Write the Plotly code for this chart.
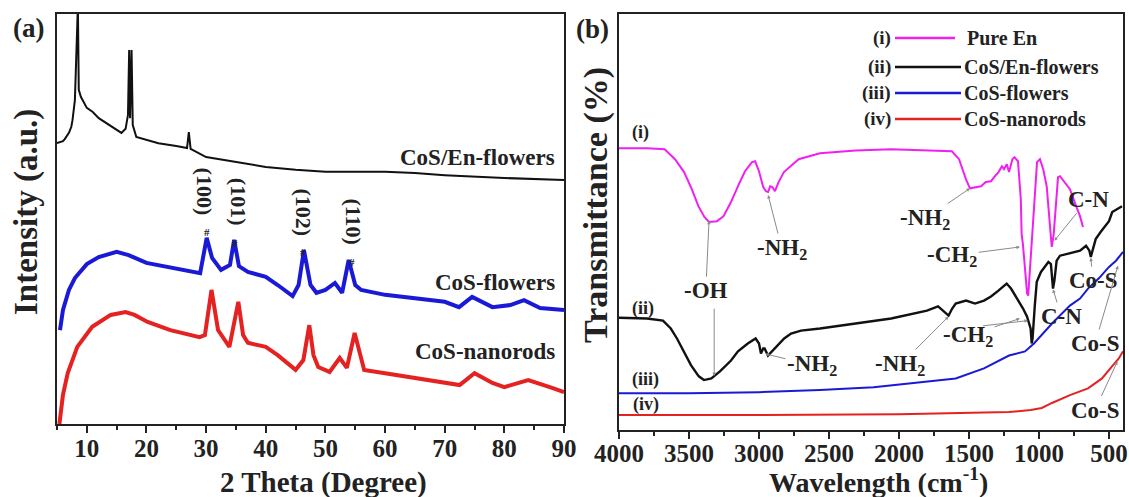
import plotly.graph_objects as go

FONT = "Liberation Serif"

# ---------------- Panel (a): XRD ----------------
two_theta_en = [5, 6, 6.3, 7, 7.4, 7.6, 8.0, 8.2, 8.35, 8.5, 8.65, 9.0, 10, 11, 12, 13, 14, 15, 15.8, 16.5, 16.9, 17.1,
                17.25, 17.5, 17.7, 18.3, 20, 22, 25, 26.8, 27.1, 27.4, 30, 35, 40, 45, 50, 55, 60, 65, 70, 80, 90]
int_en = [68.5, 69.0, 69.5, 71.0, 72.5, 74.1, 79.0, 88.8, 102, 102, 81.5, 79.8, 77.1, 76.1, 74.6, 73.7, 72.7, 71.7,
          71.0, 72.0, 75.4, 91.2, 74.6, 91.2, 72.9, 70.0, 69.3, 68.5, 67.8, 67.3, 71.2, 67.1, 65.1, 63.9, 62.7, 62.0,
          61.5, 61.5, 61.5, 61.2, 60.7, 60.0, 59.5]

two_theta_fl = [5.5, 6.0, 7.0, 8.0, 10, 12, 15, 17, 20, 23, 25, 28, 29, 30.1, 31, 32.5, 34, 34.7, 35.5, 37, 40, 42,
                44.5, 45.5, 46.4, 47.5, 48.5, 50, 51.6, 52.8, 53.9, 55, 56, 60, 65, 70, 72.4, 74.6, 78, 81, 83.3, 86, 90]
int_fl = [22.9, 27.8, 32.7, 35.6, 39.0, 40.7, 42.0, 41.2, 39.3, 38.5, 38.0, 37.3, 36.8, 45.4, 40.5, 37.6, 38.8, 44.9,
          38.5, 37.1, 35.9, 33.9, 31.2, 33.9, 42.4, 33.9, 32.0, 32.7, 34.4, 32.0, 40.0, 33.9, 32.7, 31.5, 30.7, 29.8,
          28.5, 31.0, 28.5, 29.0, 30.2, 28.3, 27.8]

two_theta_nr = [5.4, 6.0, 6.8, 8.4, 10.9, 14, 16.5, 18, 20.2, 24, 28.9, 29.8, 30.9, 32, 33.9, 35.4, 36.2, 37, 40, 42,
                45, 46.3, 47.3, 48, 48.8, 50.7, 52.4, 53.6, 54.9, 56, 56.5, 60, 65, 70, 72.5, 75, 78, 80, 84, 88, 90]
int_nr = [0.0, 7.1, 12.4, 18.8, 23.7, 26.6, 27.3, 26.6, 24.9, 22.9, 21.2, 21.7, 32.7, 22.9, 18.8, 29.8, 21.7, 19.8,
          18.8, 16.8, 13.2, 15.6, 24.1, 16.8, 13.9, 12.7, 16.1, 13.7, 22.2, 15.6, 13.2, 12.4, 11.2, 10.0, 9.5, 12.4,
          10.0, 9.0, 10.7, 8.8, 7.8]

hkl_labels = ["(100)", "(101)", "(102)", "(110)"]
hkl_x = [29.7, 35.4, 46.3, 54.7]
hkl_y = [56.6, 54.1, 51.5, 49.3]
hash_x = [30.1, 34.8, 46.2, 54.4]
hash_y = [46.8, 44.1, 41.9, 39.5]

# ---------------- Panel (b): FTIR ----------------
wn_en = [4000, 3800, 3674, 3600, 3535, 3480, 3433, 3390, 3357, 3300, 3253, 3200, 3150, 3100, 3050, 3028, 3000, 2970,
         2950, 2935, 2920, 2905, 2886, 2860, 2822, 2717, 2564, 2309, 2057, 1800, 1622, 1571, 1522, 1493, 1450, 1414,
         1380, 1343, 1310, 1289, 1265, 1250, 1230, 1214, 1190, 1175, 1150, 1130, 1124, 1115, 1100, 1085, 1077, 1060,
         1043, 1014, 993, 970, 945, 921, 909, 895, 886, 864, 850, 820, 779, 740, 707, 686]
tr_en = [67.7, 67.7, 67.5, 65.1, 62.0, 57.9, 53.8, 51.2, 50.0, 50.2, 51.4, 54.8, 58.6, 62.2, 64.4, 64.6, 62.2, 58.4,
         57.4, 57.2, 58.6, 58.4, 57.4, 59.6, 62.0, 65.1, 66.5, 67.2, 67.5, 67.2, 67.0, 65.1, 60.3, 58.1, 58.4, 58.6,
         59.6, 59.8, 61.2, 62.0, 63.4, 62.7, 63.9, 62.0, 65.1, 65.6, 64.6, 55.5, 47.1, 44.7, 38.8, 32.8, 32.3, 41.1,
         50.7, 64.4, 65.1, 62.7, 58.6, 48.3, 44.0, 47.1, 50.7, 60.8, 61.0, 59.8, 57.9, 54.3, 51.4, 48.8]

wn_cen = [4000, 3800, 3686, 3630, 3586, 3530, 3486, 3430, 3393, 3340, 3279, 3200, 3150, 3080, 3024, 3000, 2986, 2970,
          2960, 2936, 2900, 2871, 2820, 2771, 2700, 2564, 2309, 2056, 1800, 1721, 1686, 1646, 1620, 1595, 1521, 1457,
          1393, 1343, 1290, 1231, 1200, 1164, 1114, 1086, 1060, 1052, 1046, 1030, 1016, 986, 969, 933, 915, 905, 900,
          890, 874, 850, 803, 750, 707, 664, 640, 630, 610, 595, 560, 524, 500, 477, 440, 407]
tr_cen = [27.0, 26.8, 26.3, 24.4, 22.0, 18.4, 15.6, 12.9, 12.0, 12.4, 14.1, 16.7, 18.9, 20.8, 22.0, 20.8, 18.4, 19.6,
          19.6, 17.9, 19.1, 20.3, 22.0, 23.2, 23.9, 24.4, 25.6, 26.8, 28.7, 29.7, 28.7, 27.5, 29.2, 30.4, 31.1, 30.4,
          31.1, 32.1, 33.5, 35.2, 34.0, 32.1, 29.2, 27.3, 24.4, 20.8, 22.0, 29.9, 35.6, 38.0, 38.8, 40.4, 39.9, 36.4,
          34.0, 35.9, 40.7, 41.9, 42.3, 42.8, 43.1, 44.3, 43.1, 41.6, 44.0, 45.9, 47.6, 49.0, 50.2, 52.4, 53.1, 53.8]

wn_cfl = [4000, 3500, 3000, 2564, 2181, 1800, 1595, 1393, 1214, 1100, 1036, 907, 779, 707, 650, 574, 500, 450, 400]
tr_cfl = [8.85, 8.85, 9.1, 9.6, 10.3, 11.7, 12.4, 14.8, 17.9, 18.9, 20.8, 25.6, 29.9, 31.6, 34.0, 36.4, 39.2, 40.7, 42.8]

wn_cnr = [4000, 3000, 2000, 1500, 1214, 1059, 980, 907, 779, 650, 550, 471, 430, 400]
tr_cnr = [3.6, 3.6, 3.8, 4.1, 4.3, 4.8, 5.3, 6.5, 8.4, 10.0, 12.4, 15.6, 17.2, 18.9]

series_names = ["Pure En", "CoS/En-flowers", "CoS-flowers", "CoS-nanorods"]
series_tags = ["(i)", "(ii)", "(iii)", "(iv)"]
MAG, BLK, BLU, RED = "#f020f0", "#111111", "#1a1ad6", "#e52222"

# figure fills the whole window (page margin removed in post_script)
W, H = 1129, 497
def px(x):   # screen pixel -> paper x
    return x / W
def py(y):   # screen pixel -> paper y
    return 1 - y / H

fig = go.Figure()
fig.add_trace(go.Scatter(x=two_theta_en, y=int_en, mode="lines", line=dict(color=BLK, width=2), xaxis="x", yaxis="y"))
fig.add_trace(go.Scatter(x=two_theta_fl, y=int_fl, mode="lines", line=dict(color=BLU, width=4), xaxis="x", yaxis="y"))
fig.add_trace(go.Scatter(x=two_theta_nr, y=int_nr, mode="lines", line=dict(color=RED, width=4), xaxis="x", yaxis="y"))
fig.add_trace(go.Scatter(x=wn_en, y=tr_en, mode="lines", line=dict(color=MAG, width=2), xaxis="x2", yaxis="y2"))
fig.add_trace(go.Scatter(x=wn_cen, y=tr_cen, mode="lines", line=dict(color=BLK, width=2.4), xaxis="x2", yaxis="y2"))
fig.add_trace(go.Scatter(x=wn_cfl, y=tr_cfl, mode="lines", line=dict(color=BLU, width=2), xaxis="x2", yaxis="y2"))
fig.add_trace(go.Scatter(x=wn_cnr, y=tr_cnr, mode="lines", line=dict(color=RED, width=2), xaxis="x2", yaxis="y2"))

axis_common = dict(showline=True, linecolor="#222", linewidth=2, mirror=True, showgrid=False, zeroline=False,
                   automargin=False)
tickfont = dict(family=FONT, size=25, color="#222", weight="bold")

fig.update_layout(
    template="none",
    width=W, height=H, margin=dict(l=0, r=0, t=0, b=0, autoexpand=False),
    paper_bgcolor="white", plot_bgcolor="white", showlegend=False,
    xaxis=dict(domain=[px(57), px(564)], range=[5, 90], anchor="y", ticks="outside", ticklen=7,
               tickwidth=2, tickcolor="#222", dtick=10, tick0=10, tickfont=tickfont, ticklabelstandoff=-6,
               minor=dict(dtick=5, tick0=5, ticks="outside", ticklen=4, tickwidth=2, tickcolor="#222"),
               **axis_common),
    yaxis=dict(domain=[py(424), py(14)], range=[0, 100], anchor="x", showticklabels=False,
               ticks="", **axis_common),
    xaxis2=dict(domain=[px(619), px(1123)], range=[4000, 400], anchor="y2", ticks="outside", ticklen=7,
                tickwidth=2, tickcolor="#222", tickvals=[4000, 3500, 3000, 2500, 2000, 1500, 1000, 500],
                tickfont=tickfont, ticklabelstandoff=-7,
                minor=dict(tickvals=[3750, 3250, 2750, 2250, 1750, 1250, 750], ticks="outside", ticklen=4,
                           tickwidth=2, tickcolor="#222"),
                **axis_common),
    yaxis2=dict(domain=[py(430), py(14)], range=[0, 100], anchor="x2", showticklabels=False,
                ticks="", **axis_common),
)

ann = []
def txt(x, y, t, size=17, xref="paper", yref="paper", angle=0, xanchor="center", color="#222"):
    ann.append(dict(x=x, y=y, xref=xref, yref=yref, text=t, showarrow=False, textangle=angle, xanchor=xanchor,
                    yanchor="middle", font=dict(family=FONT, size=size, color=color, weight="bold")))

# panel letters and axis titles
txt(px(28), py(28), "(a)", size=27)
txt(px(592), py(29), "(b)", size=27)
txt(px(26), py(212), "Intensity (a.u.)", size=33, angle=-90)
txt(px(596), py(205), "Transmittance (%)", size=34, angle=-90)
txt(px(323), py(482), "2 Theta (Degree)", size=29)
txt(px(878), py(480), "Wavelength (cm<sup>-1</sup>)", size=28)

# XRD labels
txt(88.9, 65.1, "CoS/En-flowers", size=23, xref="x", yref="y", xanchor="right")
txt(88.9, 34.6, "CoS-flowers", size=23, xref="x", yref="y", xanchor="right")
txt(88.9, 17.6, "CoS-nanorods", size=23, xref="x", yref="y", xanchor="right")
for lab, hx, hy in zip(hkl_labels, hkl_x, hkl_y):
    txt(hx, hy, lab, size=22, xref="x", yref="y", angle=90)
for hx, hy in zip(hash_x, hash_y):
    txt(hx, hy, "#", size=11, xref="x", yref="y")

# FTIR curve tags
txt(3850, 71.5, "(i)", size=18, xref="x2", yref="y2")
txt(3830, 29.2, "(ii)", size=18, xref="x2", yref="y2")
txt(3810, 12.2, "(iii)", size=18, xref="x2", yref="y2")
txt(3810, 6.2, "(iv)", size=18, xref="x2", yref="y2")

# legend (drawn manually: tag, line, name)
leg_y = [38, 67, 93, 119]
leg_col = [MAG, BLK, BLU, RED]
leg_x1 = [955, 961, 961, 961]
leg_tx = [965, 962, 962, 962]
shapes = []
for tag, name, yy, col, x1, tx in zip(series_tags, series_names, leg_y, leg_col, leg_x1, leg_tx):
    txt(px(893), py(yy), tag, size=19, xanchor="right")
    txt(px(tx), py(yy), name, size=20, xanchor="left")
    shapes.append(dict(type="line", xref="paper", yref="paper", x0=px(895), x1=px(x1),
                       y0=py(yy), y1=py(yy), line=dict(color=col, width=2.5)))

# FTIR band assignments (label position -> arrow to band)
def arrow(tx, ty, pxv, pyv, t, size=23):
    ann.append(dict(x=pxv, y=pyv, ax=tx, ay=ty, xref="x2", yref="y2", axref="x2", ayref="y2", text=t,
                    showarrow=True, arrowhead=2, arrowsize=0.7, arrowwidth=1, arrowcolor="#8a8a8a",
                    font=dict(family=FONT, size=size, color="#222", weight="bold")))

arrow(3380, 33.5, 3357, 50.3, "-OH")
arrow(3320, 29.5, 3320, 13.0, "")
arrow(2836, 43.5, 2935, 56.5, "-NH<sub>2</sub>")
arrow(2621, 15.6, 2955, 18.3, "-NH<sub>2</sub>")
arrow(1814, 50.7, 1493, 58.1, "-NH<sub>2</sub>")
arrow(1621, 41.9, 1136, 44.0, "-CH<sub>2</sub>")
arrow(650, 55.5, 890, 45.5, "C-N")
arrow(1993, 15.6, 1646, 27.3, "-NH<sub>2</sub>")
arrow(1507, 22.7, 1136, 26.8, "-CH<sub>2</sub>")
arrow(1410, 25.0, 1079, 26.3, "")
arrow(840, 27.3, 900, 33.8, "C-N")
arrow(614, 35.9, 630, 41.4, "Co-S")
arrow(600, 20.8, 436, 39.5, "Co-S")
arrow(600, 4.8, 440, 16.5, "Co-S")

fig.update_layout(annotations=ann, shapes=shapes)
fig.write_html("out.html", config={"displayModeBar": False},
               post_script="document.body.style.margin='0';document.body.style.overflow='hidden';")
